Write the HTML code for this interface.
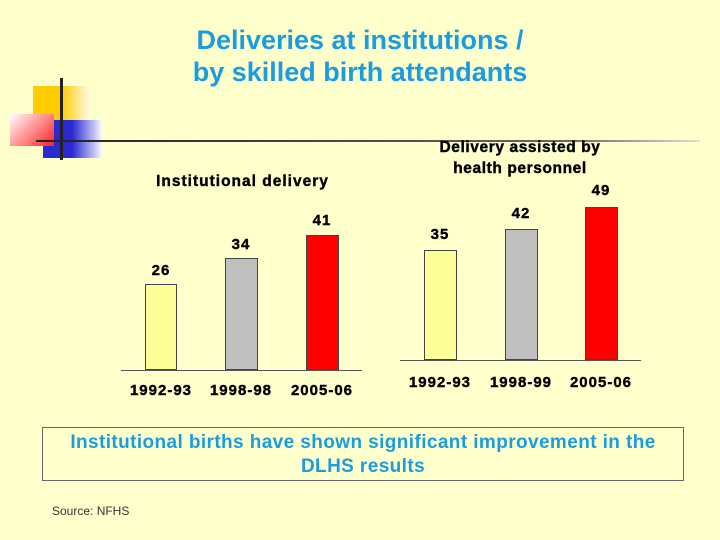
<!DOCTYPE html>
<html><head><style>
body{margin:0;width:720px;height:540px;background:#ffffcc;position:relative;overflow:hidden;font-family:"Liberation Sans",Arial,sans-serif}
.a{position:absolute}
.t{color:#1a9ce0;font-weight:bold;font-size:27px;text-align:center;width:720px;left:0;line-height:32px}
.b{font-weight:bold;font-size:15px;color:#000;text-align:center;letter-spacing:1px;-webkit-text-stroke:0.4px #000}
.bar{position:absolute;border:1px solid #444;box-sizing:border-box}
</style></head><body>
<div class="a t" style="top:24px">Deliveries at institutions /<br>by skilled birth attendants</div>
<div class="a" style="left:33px;top:86px;width:56px;height:50px;background:linear-gradient(to right,#ffcc00 50%,#fff8e0)"></div>
<div class="a" style="left:43px;top:120px;width:58px;height:38px;background:linear-gradient(to right,#2a2ad0 50%,#f0f0ff)"></div>
<div class="a" style="left:10px;top:114px;width:44px;height:32px;background:linear-gradient(135deg,#fff 0%,#ff2020 100%)"></div>
<div class="a" style="left:60px;top:78px;width:3px;height:82px;background:#222"></div>
<div class="a" style="left:36px;top:140px;width:664px;height:2px;background:linear-gradient(to right,#222,#666 80%,#ddd)"></div>

<div class="a b" style="left:110px;top:173px;width:265px;font-size:15.5px">Institutional delivery</div>
<div class="bar" style="left:145px;top:284px;width:32px;height:86px;background:#ffff99"></div>
<div class="bar" style="left:225px;top:258px;width:33px;height:112px;background:#c0c0c0"></div>
<div class="bar" style="left:306px;top:235px;width:33px;height:135px;background:#ff0000"></div>
<div class="a" style="left:121px;top:370px;width:241px;height:1px;background:#555"></div>
<div class="a b" style="left:141px;top:262px;width:40px">26</div>
<div class="a b" style="left:221px;top:236px;width:40px">34</div>
<div class="a b" style="left:302px;top:212px;width:40px">41</div>
<div class="a b" style="left:120px;top:382px;width:82px">1992-93</div>
<div class="a b" style="left:200px;top:382px;width:82px">1998-98</div>
<div class="a b" style="left:281px;top:382px;width:82px">2005-06</div>

<div class="a b" style="left:410px;top:137px;width:220px;font-size:15.5px;line-height:21px;letter-spacing:0.6px">Delivery assisted by<br>health personnel</div>
<div class="bar" style="left:424px;top:250px;width:33px;height:110px;background:#ffff99"></div>
<div class="bar" style="left:505px;top:229px;width:33px;height:131px;background:#c0c0c0"></div>
<div class="bar" style="left:585px;top:207px;width:33px;height:153px;background:#ff0000"></div>
<div class="a" style="left:400px;top:360px;width:241px;height:1px;background:#555"></div>
<div class="a b" style="left:420px;top:226px;width:40px">35</div>
<div class="a b" style="left:501px;top:205px;width:40px">42</div>
<div class="a b" style="left:581px;top:182px;width:40px">49</div>
<div class="a b" style="left:399px;top:374px;width:82px">1992-93</div>
<div class="a b" style="left:480px;top:374px;width:82px">1998-99</div>
<div class="a b" style="left:560px;top:374px;width:82px">2005-06</div>

<div class="a" style="left:42px;top:427px;width:642px;height:54px;border:1px solid #666;box-sizing:border-box;background:#ffffcc;color:#1a9ce0;font-weight:bold;font-size:19px;letter-spacing:0.4px;text-align:center;line-height:24px;padding-top:3px">Institutional births have shown significant improvement in the<br>DLHS results</div>
<div class="a" style="left:52px;top:504px;font-size:12px;color:#333">Source: NFHS</div>
</body></html>
